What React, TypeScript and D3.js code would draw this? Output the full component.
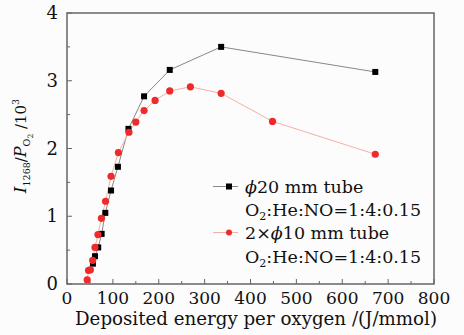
import React from "react";
import * as d3 from "d3";

const blackX = [56.5, 61, 68, 75.5, 83.5, 96, 111, 134, 168, 224, 336, 672];
const blackY = [0.3, 0.41, 0.54, 0.74, 1.05, 1.38, 1.73, 2.29, 2.77, 3.16, 3.5, 3.13];
const redX = [44, 47, 51, 56, 61, 67.5, 75, 84, 96, 112, 135, 150, 168, 192, 224, 269, 336, 448, 672];
const redY = [0.06, 0.2, 0.21, 0.35, 0.54, 0.73, 0.97, 1.22, 1.59, 1.94, 2.24, 2.39, 2.56, 2.71, 2.85, 2.91, 2.815, 2.4, 1.915];
const xTicks = [0, 100, 200, 300, 400, 500, 600, 700, 800];
const yTicks = [0, 1, 2, 3, 4];
const xLabel = "Deposited energy per oxygen /(J/mmol)";
const legend1 = "20 mm tube";
const legend2 = "10 mm tube";
const mixture = "He:NO=1:4:0.15";

const W = 464, H = 335;
const L = 67, R = 434, T = 13, B = 284;
const FONT = "'DejaVu Serif', 'Liberation Serif', serif";

export default function App() {
  const x = d3.scaleLinear().domain([0, 800]).range([L, R]);
  const y = d3.scaleLinear().domain([0, 4]).range([B, T]);
  const line = d3.line<[number, number]>().x(d => x(d[0])).y(d => y(d[1]));
  const bData = blackX.map((v, i) => [v, blackY[i]] as [number, number]);
  const rData = redX.map((v, i) => [v, redY[i]] as [number, number]);
  const xMinor = d3.range(0, 801, 50);
  const yMinor = d3.range(0, 4.01, 0.5);
  const axisColor = "#666";
  const lfs = 17.5;
  return (
    <div style={{ position: "absolute", left: 0, top: 0 }}>
      <svg width={W} height={H} style={{ display: "block", background: "#fcfcfc" }} fontFamily={FONT}>
        <rect x={L} y={T} width={R - L} height={B - T} fill="none" stroke={axisColor} strokeWidth={1.5} />
        {xMinor.map(v => (
          <line key={"xt" + v} x1={x(v)} x2={x(v)} y1={B} y2={B - (v % 100 === 0 ? 5 : 3)} stroke={axisColor} strokeWidth={1} />
        ))}
        {yMinor.map(v => (
          <line key={"yt" + v} x1={L} x2={L + (v % 1 === 0 ? 5 : 3)} y1={y(v)} y2={y(v)} stroke={axisColor} strokeWidth={1} />
        ))}
        {xTicks.map(v => (
          <text key={"xl" + v} x={x(v)} y={B + 20} textAnchor="middle" fontSize={17} fill="#111">{v}</text>
        ))}
        {yTicks.map(v => (
          <text key={"yl" + v} x={L - 9} y={y(v) + 6} textAnchor="end" fontSize={18} fill="#111">{v}</text>
        ))}
        <text x={L + 8} y={B + 41} textLength={362} lengthAdjust="spacingAndGlyphs" fontSize={18} fill="#111">{xLabel}</text>
        <text transform={`translate(26, 146) rotate(-90)`} textAnchor="middle" fontSize={15} fill="#111">
          <tspan fontStyle="italic" fontSize={17}>I</tspan>
          <tspan fontSize={9.5} dy={4}>1268</tspan>
          <tspan dy={-4}>/</tspan>
          <tspan fontStyle="italic" fontSize={16}>P</tspan>
          <tspan fontSize={9.5} dy={4}>O</tspan>
          <tspan fontSize={7.5} dy={3}>2</tspan>
          <tspan dy={-7}> /10</tspan>
          <tspan fontSize={9.5} dy={-7}>3</tspan>
        </text>
        <path d={line(bData) || ""} fill="none" stroke="#888" strokeWidth={1} />
        <path d={line(rData) || ""} fill="none" stroke="#f5b0a5" strokeWidth={1} />
        {bData.map((d, i) => (
          <rect key={"b" + i} x={x(d[0]) - 3} y={y(d[1]) - 3} width={6} height={6} fill="#000" />
        ))}
        {rData.map((d, i) => (
          <circle key={"r" + i} cx={x(d[0])} cy={y(d[1])} r={3.6} fill="#ee2a2a" />
        ))}
        <line x1={213} x2={238} y1={186.5} y2={186.5} stroke="#888" strokeWidth={1} />
        <rect x={226} y={183.5} width={6} height={6} fill="#000" />
        <line x1={213} x2={238} y1={232.5} y2={232.5} stroke="#f5b0a5" strokeWidth={1} />
        <circle cx={229} cy={232.5} r={3} fill="#ee2a2a" />
        <text x={245} y={192.5} fontSize={lfs} fill="#111">
          <tspan fontStyle="italic">ϕ</tspan>{legend1}
        </text>
        <text x={245} y={216} fontSize={lfs} fill="#111">
          O<tspan fontSize={11} dy={4}>2</tspan><tspan dy={-4}>:{mixture}</tspan>
        </text>
        <text x={245} y={239} fontSize={lfs} fill="#111">
          2×<tspan fontStyle="italic">ϕ</tspan>{legend2}
        </text>
        <text x={245} y={262.5} fontSize={lfs} fill="#111">
          O<tspan fontSize={11} dy={4}>2</tspan><tspan dy={-4}>:{mixture}</tspan>
        </text>
      </svg>
    </div>
  );
}
